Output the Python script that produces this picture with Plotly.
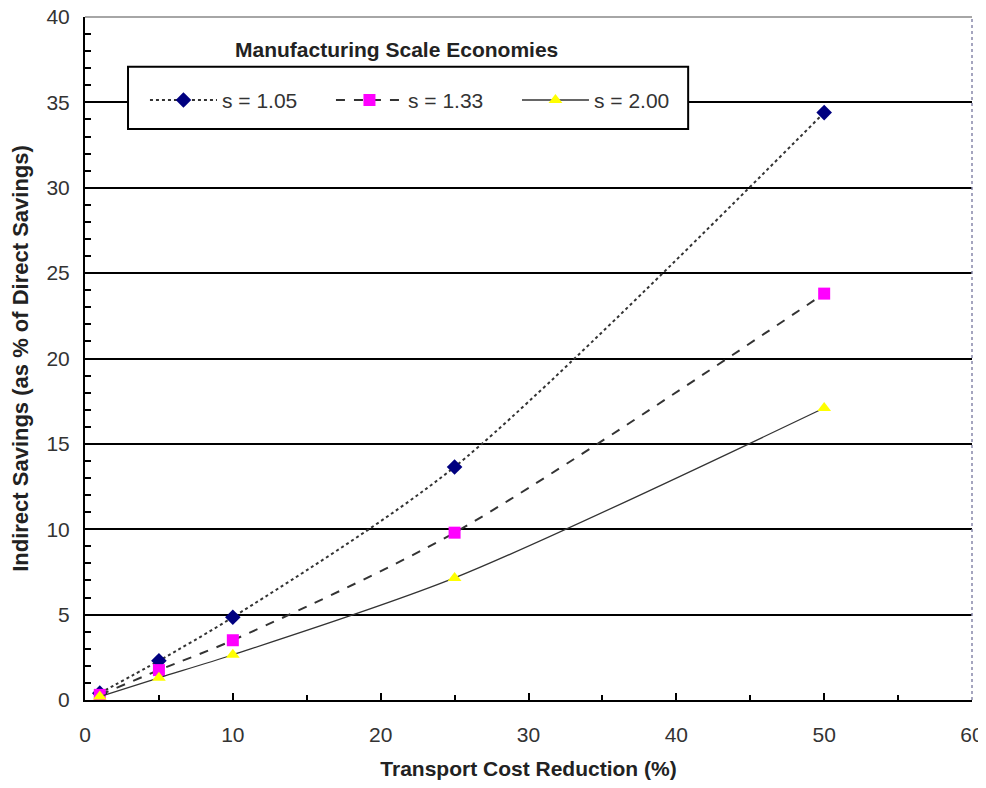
import plotly.graph_objects as go

x_vals = [1, 5, 10, 25, 50]
s105 = [0.4, 2.3, 4.85, 13.65, 34.4]
s133 = [0.3, 1.75, 3.5, 9.8, 23.8]
s200 = [0.2, 1.3, 2.65, 7.15, 17.1]
names = ["s = 1.05", "s = 1.33", "s = 2.00"]

fig = go.Figure()
fig.add_trace(go.Scatter(x=x_vals, y=s105, name=names[0], mode="lines+markers",
                         line=dict(color="#333333", width=2, dash="dot", shape="spline", smoothing=0.8),
                         marker=dict(symbol="diamond", size=12, color="#000080")))
fig.add_trace(go.Scatter(x=x_vals, y=s133, name=names[1], mode="lines+markers",
                         line=dict(color="#333333", width=2, dash="dash", shape="spline", smoothing=0.8),
                         marker=dict(symbol="square", size=12, color="#FF00FF")))
fig.add_trace(go.Scatter(x=x_vals, y=s200, name=names[2], mode="lines+markers",
                         line=dict(color="#333333", width=1.3, shape="spline", smoothing=0.8),
                         marker=dict(symbol="triangle-up", size=12, color="#FFFF00")))

font = "Liberation Sans, Arial, sans-serif"
fig.update_layout(
    width=978, height=772,
    margin=dict(l=77, r=14, t=9, b=80, autoexpand=False),
    paper_bgcolor="white", plot_bgcolor="white",
    font=dict(family=font, size=21, color="#333333"),
    showlegend=True,
    legend=dict(orientation="h", x=0.0676, y=0.878, xanchor="left", yanchor="middle",
                bgcolor="rgba(0,0,0,0)", font=dict(size=21, color="#333333"),
                entrywidth=104, itemwidth=67),
    xaxis=dict(range=[0, 60], tick0=0, dtick=10, showgrid=False, zeroline=False, automargin=False,
               showline=True, linecolor="black", linewidth=2,
               ticks="inside", ticklen=7, tickcolor="black", tickwidth=2,
               ticklabelstandoff=15, ticklabeloverflow="allow",
               minor=dict(dtick=5, ticks="inside", ticklen=5, tickcolor="black", tickwidth=2),
               title=dict(text="<b>Transport Cost Reduction (%)</b>", font=dict(size=21, color="#222222"), standoff=33)),
    yaxis=dict(range=[0, 40], tick0=0, dtick=5, showgrid=True, gridcolor="black", gridwidth=2,
               zeroline=False, showline=True, linecolor="black", linewidth=2, automargin=False,
               ticks="inside", ticklen=6, tickcolor="black", tickwidth=2,
               ticklabelstandoff=9, ticklabeloverflow="allow",
               minor=dict(dtick=1, ticks="inside", ticklen=6, tickcolor="black", tickwidth=2, showgrid=False),
               title=dict(text="<b>Indirect Savings (as % of Direct Savings)</b>", font=dict(size=22, color="#222222"), standoff=20)),
    shapes=[
        dict(type="rect", xref="paper", yref="paper", x0=0.0485, x1=0.680, y0=0.836, y1=0.927,
             line=dict(color="black", width=2), fillcolor="white", layer="above"),
        dict(type="line", xref="paper", yref="paper", x0=0, x1=1, y0=1, y1=1,
             line=dict(color="#888888", width=1.5)),
        dict(type="line", xref="paper", yref="paper", x0=1, x1=1, y0=0, y1=1,
             line=dict(color="#8888aa", width=1.5, dash="dot")),
    ],
    annotations=[
        dict(text="<b>Manufacturing Scale Economies</b>", xref="paper", yref="paper",
             x=0.351, y=0.952, xanchor="center", yanchor="middle", showarrow=False,
             font=dict(size=21, color="#222222"))
    ],
)

fig.write_html("out.html")
